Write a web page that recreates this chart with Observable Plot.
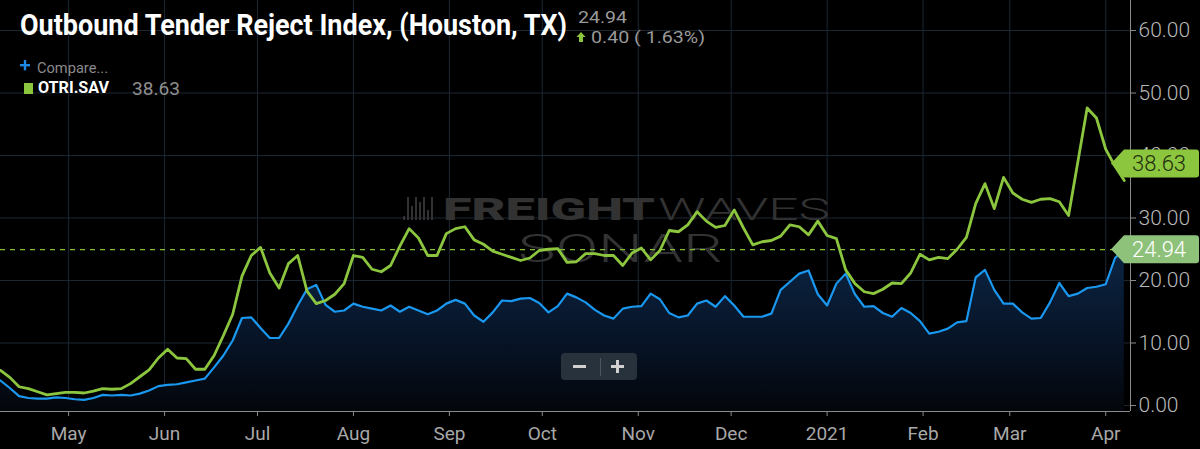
<!DOCTYPE html>
<html><head><meta charset="utf-8">
<script src="https://cdn.jsdelivr.net/npm/d3@7"></script>
<script src="https://cdn.jsdelivr.net/npm/@observablehq/plot@0.6"></script>
<style>
html,body{margin:0;padding:0;background:#000;}
#chart{position:relative;width:1200px;height:449px;overflow:hidden;}
svg{font-family:Roboto,"Noto Sans",sans-serif;}
</style></head><body><div id="chart"></div>
<script>
// ---- data ----
const startDate = "2020-04-09";
const stepDays = 3;
const otriSav = [
  5.6, 4.5, 3.0, 2.7, 2.2, 1.7, 1.9, 2.1, 2.1, 2.0,
  2.3, 2.7, 2.6, 2.7, 3.5, 4.6, 5.7, 7.6, 9.0, 7.6,
  7.5, 5.8, 5.8, 8.0, 11.2, 14.6, 20.7, 24.0, 25.3, 21.2,
  18.8, 22.7, 24.0, 18.3, 16.3, 16.8, 17.8, 19.5, 24.0, 23.7,
  21.8, 21.4, 22.4, 25.5, 28.3, 26.8, 24.0, 24.0, 27.5, 28.3,
  28.6, 26.5, 25.8, 24.7, 24.2, 23.7, 23.2, 23.6, 24.8, 25.0,
  25.1, 22.9, 23.0, 24.3, 24.3, 24.0, 24.0, 22.4, 24.4, 25.2,
  23.3, 24.8, 28.0, 27.8, 28.9, 31.0, 29.5, 28.5, 28.8, 31.3,
  28.4, 25.7, 26.2, 26.4, 27.1, 28.9, 28.6, 27.3, 29.5, 27.2,
  26.7, 21.7, 19.5, 18.2, 17.9, 18.6, 19.6, 19.5, 21.2, 24.2,
  23.3, 23.7, 23.5, 25.0, 26.9, 32.3, 35.5, 31.5, 36.5, 34.0,
  33.0, 32.5, 33.0, 33.1, 32.6, 30.4, 39.0, 47.6, 46.0, 41.0,
  38.3, 36.0
];
const otri = [
  4.0, 2.8, 1.5, 1.2, 1.1, 1.1, 1.3, 1.2, 1.0, 0.9,
  1.2, 1.7, 1.6, 1.7, 1.6, 1.9, 2.4, 3.1, 3.3, 3.4,
  3.7, 4.0, 4.3, 6.1, 8.0, 10.4, 14.0, 14.1, 12.4, 10.8,
  10.8, 13.1, 16.0, 18.6, 19.3, 16.1, 15.0, 15.2, 16.3, 15.8,
  15.5, 15.2, 16.0, 15.0, 15.8, 15.2, 14.6, 15.2, 16.3, 16.9,
  16.3, 14.4, 13.4, 14.9, 16.8, 16.7, 17.1, 17.2, 16.4, 14.9,
  15.9, 17.9, 17.3, 16.5, 15.3, 14.4, 13.9, 15.5, 15.8, 15.9,
  17.9, 17.0, 14.8, 14.1, 14.4, 16.3, 16.8, 15.8, 17.5, 16.0,
  14.2, 14.2, 14.2, 14.7, 18.5, 19.8, 21.1, 21.6, 17.8, 16.0,
  19.5, 21.1, 17.8, 15.8, 15.9, 14.8, 14.2, 15.6, 14.8, 13.5,
  11.5, 11.8, 12.3, 13.3, 13.5, 20.5, 21.7, 18.5, 16.3, 16.3,
  14.9, 13.9, 14.0, 16.5, 19.6, 17.5, 17.9, 18.8, 19.0, 19.4,
  23.6, 24.94
];
const yTicks = [0, 10, 20, 30, 40, 50, 60];
const monthTicks = ["2020-05-01","2020-06-01","2020-07-01","2020-08-01","2020-09-01","2020-10-01",
  "2020-11-01","2020-12-01","2021-01-01","2021-02-01","2021-03-01","2021-04-01"];
const lastOtri = 24.94;
const lastSav = 38.63;
const titleText = "Outbound Tender Reject Index, (Houston, TX)";
const changeText = "0.40 ( 1.63%)";
const seriesName = "OTRI.SAV";
const compareText = "Compare...";

// ---- build ----
const start = new Date(startDate + "T00:00:00Z");
const rows = otri.map((v, i) => ({date: d3.utcDay.offset(start, i * stepDays), otri: v, sav: otriSav[i]}));
const monthDates = monthTicks.map(s => new Date(s + "T00:00:00Z"));
const xDomain = [new Date("2020-04-09T00:00:00Z"), new Date("2021-04-09T00:00:00Z")];
const yDomain = [-0.96, 64.8];
const GREEN = "#8cc63f", BLUE = "#1a98f0", GRID = "#1c2734", AXIS = "#8a8a8a";

const chart = Plot.plot({
  width: 1200, height: 449,
  marginLeft: 0, marginRight: 70, marginTop: 0, marginBottom: 38,
  style: {background: "#000", color: "#a9a9a9", fontFamily: "Roboto, sans-serif", overflow: "visible"},
  x: {type: "utc", domain: xDomain},
  y: {domain: yDomain},
  marks: [
    Plot.gridY(yTicks, {stroke: GRID, strokeOpacity: 1}),
    Plot.gridX(monthDates, {stroke: GRID, strokeOpacity: 1}),
    Plot.areaY(rows, {x: "date", y1: yDomain[0], y2: "otri", fill: "url(#otriFill)"}),
    Plot.ruleY([lastOtri], {stroke: "#7fc23a", strokeDasharray: "5,5", strokeWidth: 1.3}),
    Plot.lineY(rows, {x: "date", y: "otri", stroke: BLUE, strokeWidth: 2.2}),
    Plot.lineY(rows, {x: "date", y: "sav", stroke: GREEN, strokeWidth: 2.8}),
    Plot.ruleX([xDomain[1]], {stroke: AXIS}),
    Plot.ruleY([yDomain[0]], {stroke: AXIS}),
    Plot.axisY(yTicks, {anchor: "right", tickSize: 5, tickPadding: 3, tickFormat: d => d.toFixed(2), fontSize: 21, stroke: AXIS}),
    Plot.axisX(monthDates, {anchor: "bottom", tickSize: 5, tickPadding: 10, fontSize: 19, stroke: AXIS,
      tickFormat: d => d.getUTCMonth() === 0 ? String(d.getUTCFullYear()) : d3.utcFormat("%b")(d)})
  ]
});
document.getElementById("chart").appendChild(chart);

const svg = d3.select(chart);
// gradient for area
const defs = svg.insert("defs", ":first-child");
const grad = defs.append("linearGradient").attr("id", "otriFill").attr("x1", 0).attr("y1", 0).attr("x2", 0).attr("y2", 1);
grad.append("stop").attr("offset", "0%").attr("stop-color", "#0c2544");
grad.append("stop").attr("offset", "55%").attr("stop-color", "#071427");
grad.append("stop").attr("offset", "100%").attr("stop-color", "#03060b");

// axis text styling
svg.selectAll('g[aria-label="y-axis tick label"] text').attr("font-weight", 300).attr("fill", "#b8b8b8");
svg.selectAll('g[aria-label="x-axis tick label"] text').attr("fill", "#a8a8a8");

// watermark behind series
const areaG = chart.querySelector('g[aria-label="area"]');
const wm = document.createElementNS("http://www.w3.org/2000/svg", "g");
chart.insertBefore(wm, areaG);
const w = d3.select(wm).attr("fill", "#323232").attr("text-anchor", "start");
[[403,4],[407,23],[411,14],[415,23],[419,18],[423,23],[427,10],[431,23]].forEach(([x, h]) =>
  w.append("rect").attr("x", x).attr("y", 220 - h).attr("width", 2).attr("height", h));
w.append("text").attr("x", 443).attr("y", 220).attr("font-size", 32).attr("font-weight", 900)
  .attr("textLength", 212).attr("lengthAdjust", "spacingAndGlyphs").text("FREIGHT");
w.append("text").attr("x", 658).attr("y", 220).attr("font-size", 32).attr("font-weight", 300)
  .attr("textLength", 172).attr("lengthAdjust", "spacingAndGlyphs").text("WAVES");
w.append("text").attr("x", 518).attr("y", 262).attr("font-size", 38).attr("font-weight", 300)
  .attr("textLength", 205).attr("lengthAdjust", "spacingAndGlyphs").text("SONAR");

// last-value tags on the right axis
const ys = chart.scale("y");
function tag(v, fill, textFill, label) {
  const yc = ys.apply(v);
  const g = svg.append("g").attr("text-anchor", "start");
  g.append("path").attr("fill", fill)
    .attr("d", `M1111,${yc} L1124,${yc - 14} L1196,${yc - 14} Q1199,${yc - 14} 1199,${yc - 11} L1199,${yc + 11} Q1199,${yc + 14} 1196,${yc + 14} L1124,${yc + 14} Z`);
  g.append("text").attr("x", 1132).attr("y", yc).attr("dy", "0.35em").attr("font-size", 22)
    .attr("font-weight", 300).attr("fill", textFill).text(label);
}
tag(lastSav, GREEN, "#1f2d0e", lastSav.toFixed(2));
tag(lastOtri, "#8ec27b", "#ffffff", lastOtri.toFixed(2));

// zoom control
const zc = svg.append("g");
zc.append("rect").attr("x", 561).attr("y", 353).attr("width", 76).attr("height", 27).attr("rx", 4).attr("fill", "#27323d");
zc.append("rect").attr("x", 573).attr("y", 365).attr("width", 13).attr("height", 3).attr("fill", "#d0d0d0");
zc.append("rect").attr("x", 611).attr("y", 365).attr("width", 13).attr("height", 3).attr("fill", "#d0d0d0");
zc.append("rect").attr("x", 616).attr("y", 360).attr("width", 3).attr("height", 13).attr("fill", "#d0d0d0");
zc.append("line").attr("x1", 600.5).attr("x2", 600.5).attr("y1", 358).attr("y2", 376).attr("stroke", "#4a5663");

// header texts
const hd = svg.append("g").attr("text-anchor", "start");
hd.append("text").attr("x", 20).attr("y", 35).attr("font-size", 30).attr("font-weight", 700).attr("fill", "#fff")
  .attr("textLength", 547).attr("lengthAdjust", "spacingAndGlyphs").text(titleText);
hd.append("text").attr("x", 578).attr("y", 23).attr("font-size", 16).attr("fill", "#9a9a9a")
  .attr("textLength", 49).attr("lengthAdjust", "spacingAndGlyphs").text(lastOtri.toFixed(2));
hd.append("path").attr("fill", GREEN).attr("d", "M581,32 L585.5,37 L583,37 L583,42 L579,42 L579,37 L576.5,37 Z");
hd.append("text").attr("x", 591).attr("y", 43).attr("font-size", 16).attr("fill", "#9a9a9a")
  .attr("textLength", 114).attr("lengthAdjust", "spacingAndGlyphs").text(changeText);
hd.append("rect").attr("x", 20).attr("y", 64).attr("width", 10).attr("height", 2.4).attr("fill", "#1e88e5");
hd.append("rect").attr("x", 23.8).attr("y", 60).attr("width", 2.4).attr("height", 10.4).attr("fill", "#1e88e5");
hd.append("text").attr("x", 37).attr("y", 73).attr("font-size", 15).attr("fill", "#8a8a8a")
  .attr("textLength", 71).attr("lengthAdjust", "spacingAndGlyphs").text(compareText);
hd.append("rect").attr("x", 24).attr("y", 83).attr("width", 9).attr("height", 11).attr("fill", GREEN);
hd.append("text").attr("x", 38).attr("y", 93).attr("font-size", 16).attr("font-weight", 700).attr("fill", "#fff")
  .attr("textLength", 71).attr("lengthAdjust", "spacingAndGlyphs").text(seriesName);
hd.append("text").attr("x", 132).attr("y", 95).attr("font-size", 18).attr("fill", "#8f8f8f")
  .attr("textLength", 48).attr("lengthAdjust", "spacingAndGlyphs").text(lastSav.toFixed(2));
</script>
</body></html>
